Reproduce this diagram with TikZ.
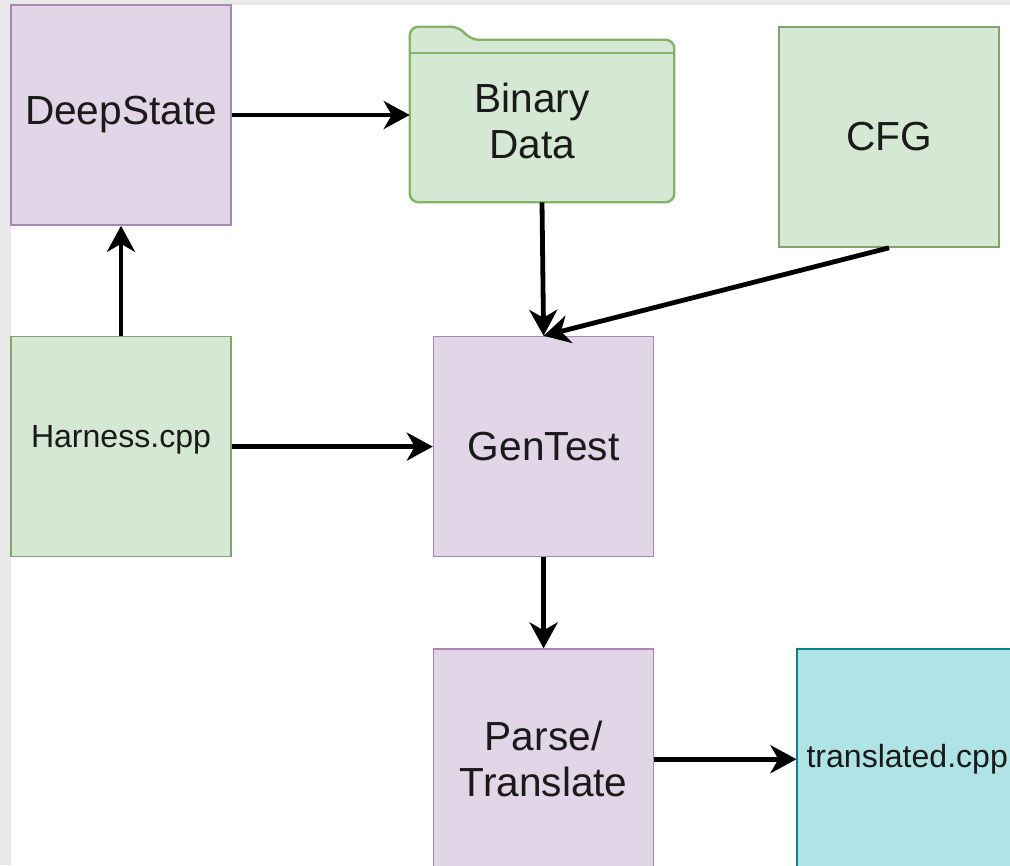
\documentclass[tikz,border=0pt]{standalone}
\usepackage{fontspec}
\setsansfont{Liberation Sans}
\usepackage{xcolor}
\usepackage{tikz}
\usetikzlibrary{positioning,arrows.meta,calc,backgrounds}
\definecolor{stateviolet}{HTML}{E1D5E7}
\definecolor{stateline}{HTML}{9673A6}
\definecolor{datagreen}{HTML}{D5E8D4}
\definecolor{dataline}{HTML}{82B366}
\definecolor{outcyan}{HTML}{B0E3E6}
\definecolor{outteal}{HTML}{0E8088}
\definecolor{canvasgray}{HTML}{E9E9E9}
\definecolor{inktext}{HTML}{1A1A1A}

\begin{document}
\begin{tikzpicture}[
  x=1mm, y=1mm,
  font=\sffamily\fontsize{28.9}{33}\selectfont,
  node distance=27.5mm and 50.25mm,
  box/.style={draw, line width=0.4mm, minimum width=55mm, minimum height=55mm, align=center, inner sep=0pt, text=inktext},
  proc/.style={box, fill=stateviolet, draw=stateline!85},
  src/.style={box, fill=datagreen, draw=dataline!70!gray},
  res/.style={box, fill=outcyan, draw=outteal},
  small/.style={font=\sffamily\fontsize{22.8}{27}\selectfont},
  folder/.style={fill=datagreen, draw=dataline, line width=0.6mm, rounded corners=2.2mm},
  arr/.style={-{Stealth[length=6.5mm, width=7mm, inset=2mm]}, line width=1.2mm, black},
]
% ---- page: grey frame on top and left ----
\useasboundingbox (0,0) rectangle (252.5,-216.25);
% ---- boxes ----
\node[proc] (deep) at (30.25,-28.75) {DeepState};
\node[src, small, text depth=5mm, below=of deep] (harness) {Harness.cpp};
\node[proc, right=of harness] (gentest) {GenTest};
\node[proc, below=22.75mm of gentest] (parse) {Parse/\\Translate};
\node[res, small, right=35.5mm of parse] (trans) {translated.cpp};
\node[src] (cfg) at (222.25,-34.25) {CFG};
\node[align=center, minimum width=66mm, minimum height=40.5mm, inner sep=0pt, text=inktext] (binary) at (135.5,-30.25) {Binary\hspace*{5mm}\\ Data\hspace*{5mm}};
% ---- canvas and folder shape behind the text ----
\begin{scope}[on background layer]
  \fill[canvasgray] (0,0) rectangle (252.5,-216.25);
  \fill[white] (2.75,-1.25) rectangle (252.5,-216.25);
  \draw[folder] (binary.south west) -- ($(binary.north west)+(0,3.25)$) -- ($(binary.north west)+(12.5,3.25)$) -- ($(binary.north west)+(15,0)$) -- (binary.north east) -- (binary.south east) -- cycle;
\end{scope}
\draw[dataline, line width=0.5mm] ($(binary.north west)+(0,-3.25)$) -- ($(binary.north east)+(0,-3.25)$);
% ---- arrows ----
\draw[arr] (deep.east) -- (deep.east -| binary.west);
\draw[arr] (harness) -- (deep);
\draw[arr] (binary.south) -- (gentest.north);
\draw[arr] (cfg.south) -- (gentest.north);
\draw[arr] (harness) -- (gentest);
\draw[arr] (gentest) -- (parse);
\draw[arr] (parse) -- (trans);
\end{tikzpicture}
\end{document}
